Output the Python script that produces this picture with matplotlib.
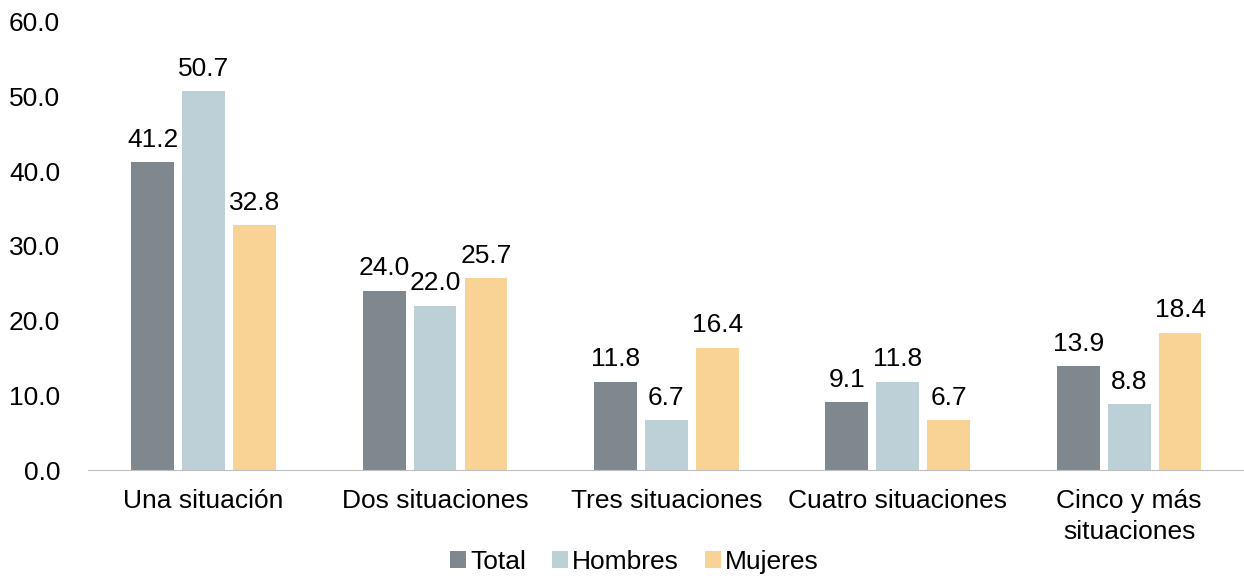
import matplotlib.pyplot as plt
import numpy as np

plt.rcParams['font.family'] = ['Liberation Sans', 'DejaVu Sans']

categories = ['Una situación', 'Dos situaciones', 'Tres situaciones',
              'Cuatro situaciones', 'Cinco y más\nsituaciones']
series = ['Total', 'Hombres', 'Mujeres']
total = [41.2, 24.0, 11.8, 9.1, 13.9]
hombres = [50.7, 22.0, 6.7, 11.8, 8.8]
mujeres = [32.8, 25.7, 16.4, 6.7, 18.4]
colors = ['#7F888E', '#BDD0D8', '#F9D295']

fig = plt.figure(figsize=(12.44, 5.76), dpi=100)
ax = fig.add_axes([0.0707, 0.184, 0.93, 0.778])

x = np.arange(len(categories))
w = 0.185
step = 0.22
for i, (vals, name) in enumerate(zip([total, hombres, mujeres], series)):
    bars = ax.bar(x + (i - 1) * step, vals, width=w, color=colors[i], label=name)
    for b, v in zip(bars, vals):
        ax.text(b.get_x() + b.get_width() / 2, v + 1.4, f'{v:.1f}',
                ha='center', va='bottom', fontsize=19)

ax.set_xlim(-0.5, 4.5)
ax.set_ylim(0, 60)
ax.set_yticks(np.arange(0, 61, 10))
ax.set_yticklabels([f'{t:.1f}' for t in np.arange(0, 61, 10)], fontsize=19)
ax.set_xticks(x)
ax.set_xticklabels(categories, fontsize=19, linespacing=1.35)
ax.tick_params(axis='x', length=0, pad=14)
ax.tick_params(axis='y', length=0, pad=20)
for s in ['top', 'right', 'left']:
    ax.spines[s].set_visible(False)
ax.spines['bottom'].set_color('#BFBFBF')

fig.legend(loc='center', bbox_to_anchor=(0.51, 0.025), ncol=3, frameon=False,
           fontsize=19, handlelength=0.6, handleheight=0.6, handletextpad=0.15,
           columnspacing=1.0, borderpad=0)

plt.savefig('out.png')
